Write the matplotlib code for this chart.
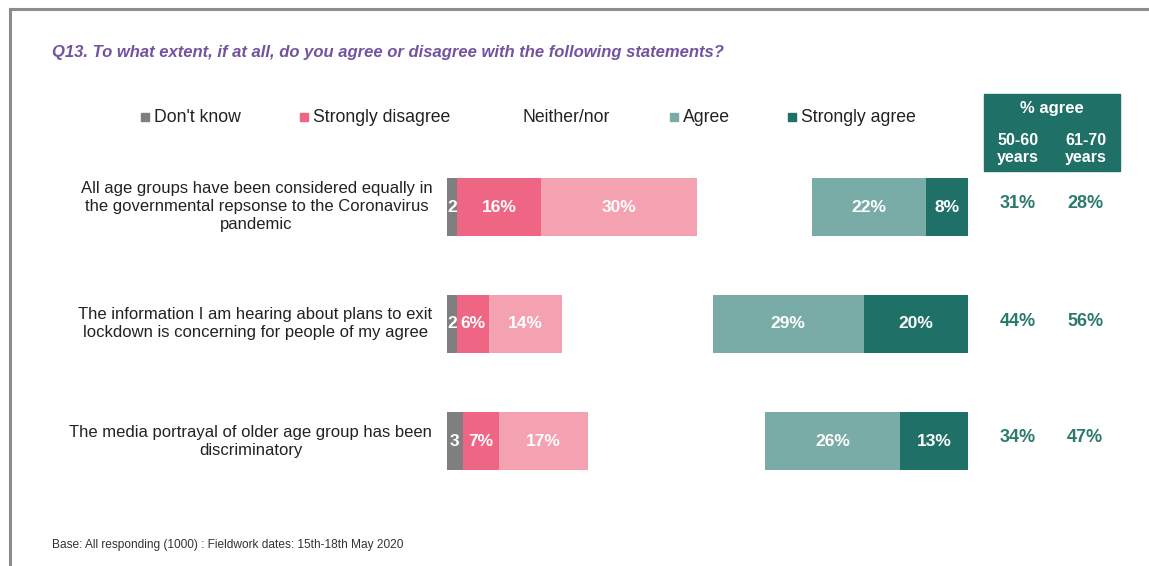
import matplotlib.pyplot as plt
from matplotlib.patches import Rectangle

plt.rcParams['font.family'] = ['Liberation Sans', 'DejaVu Sans']

# dados
statements = [
    "All age groups have been considered equally in\nthe governmental repsonse to the Coronavirus\npandemic",
    "The information I am hearing about plans to exit\nlockdown is concerning for people of my agree",
    "The media portrayal of older age group has been\ndiscriminatory",
]
categories = ["Don't know", "Strongly disagree", "Disagree", "Neither/nor", "Agree", "Strongly agree"]
dont_know = [2, 2, 3]
strongly_disagree = [16, 6, 7]
disagree = [30, 14, 17]
neither = [22, 29, 34]
agree = [22, 29, 26]
strongly_agree = [8, 20, 13]
agree_50_60 = [31, 44, 34]
agree_61_70 = [28, 56, 47]

colors = ['#7f7f7f', '#ee6683', '#f4a1b1', 'white', '#7aaca7', '#1f7167']
series = [dont_know, strongly_disagree, disagree, neither, agree, strongly_agree]

W, H = 1149, 566
fig = plt.figure(figsize=(W / 100, H / 100), dpi=100)

def fx(px):
    return px / W

def fy(py):
    return 1 - py / H

# moldura cinza
fig.add_artist(plt.Line2D([fx(9.5), fx(9.5)], [fy(9), 0], color='#8c8c8c', lw=2.2))
fig.add_artist(plt.Line2D([fx(9.5), 1], [fy(9), fy(9)], color='#8c8c8c', lw=2.2))

# eixo das barras
ax = fig.add_axes([fx(447), fy(499.5), fx(968) - fx(447), (499.5 - 148.5) / H])
ax.set_xlim(0, 100)
ax.set_ylim(2.5, -0.5)
ax.axis('off')

rows = list(range(len(statements)))
left = [0] * len(rows)
for i, vals in enumerate(series):
    ax.barh(rows, vals, left=left, height=0.5, color=colors[i], edgecolor='none')
    if categories[i] != "Neither/nor":
        for r in rows:
            txt = f"{vals[r]}" if i == 0 else f"{vals[r]}%"
            ax.text(left[r] + vals[r] / 2, r, txt, ha='center', va='center',
                    color='white', fontsize=12.5, fontweight='bold')
    left = [a + b for a, b in zip(left, vals)]

# rótulos das afirmações
for r, s in enumerate(statements):
    ax.text(-2.85, r, s, ha='right', va='center', multialignment='center',
            fontsize=12, color='#222222', linespacing=1.25)

# título
fig.text(fx(52), fy(53), "Q13. To what extent, if at all, do you agree or disagree with the following statements?",
         color='#7353a0', fontsize=12, fontweight='bold', fontstyle='italic', va='center')

# legenda
leg_items = [("Don't know", 145, colors[0]), ("Strongly disagree", 304, colors[1]),
             ("Neither/nor", 514, 'white'), ("Agree", 674, colors[4]),
             ("Strongly agree", 792, colors[5])]
for name, px, c in leg_items:
    fig.add_artist(Rectangle((fx(px - 4), fy(121)), fx(8), 8 / H, color=c,
                             transform=fig.transFigure))
    fig.text(fx(px + 9), fy(117), name, fontsize=12.7, color='#222222', va='center')

# tabela % agree
fig.add_artist(Rectangle((fx(984), fy(171)), fx(136), 77 / H, color='#1f7167',
                         transform=fig.transFigure))
fig.text(fx(1052), fy(108), "% agree", ha='center', va='center', color='white',
         fontsize=12, fontweight='bold')
fig.text(fx(1018), fy(149), "50-60\nyears", ha='center', va='center', color='white',
         fontsize=11.5, fontweight='bold', linespacing=1.15)
fig.text(fx(1086), fy(149), "61-70\nyears", ha='center', va='center', color='white',
         fontsize=11.5, fontweight='bold', linespacing=1.15)
for r in rows:
    py = 207 + 117 * r
    fig.text(fx(1018), fy(py - 3), f"{agree_50_60[r]}%", ha='center', va='center',
             color='#2a7a6e', fontsize=13, fontweight='bold')
    fig.text(fx(1085), fy(py - 3), f"{agree_61_70[r]}%", ha='center', va='center',
             color='#2a7a6e', fontsize=13, fontweight='bold')

# rodapé
fig.text(fx(52), fy(545), "Base: All responding (1000) : Fieldwork dates: 15th-18th May 2020",
         fontsize=8.6, color='#333333', va='center')

fig.savefig('out.png', dpi=100, facecolor='white')
